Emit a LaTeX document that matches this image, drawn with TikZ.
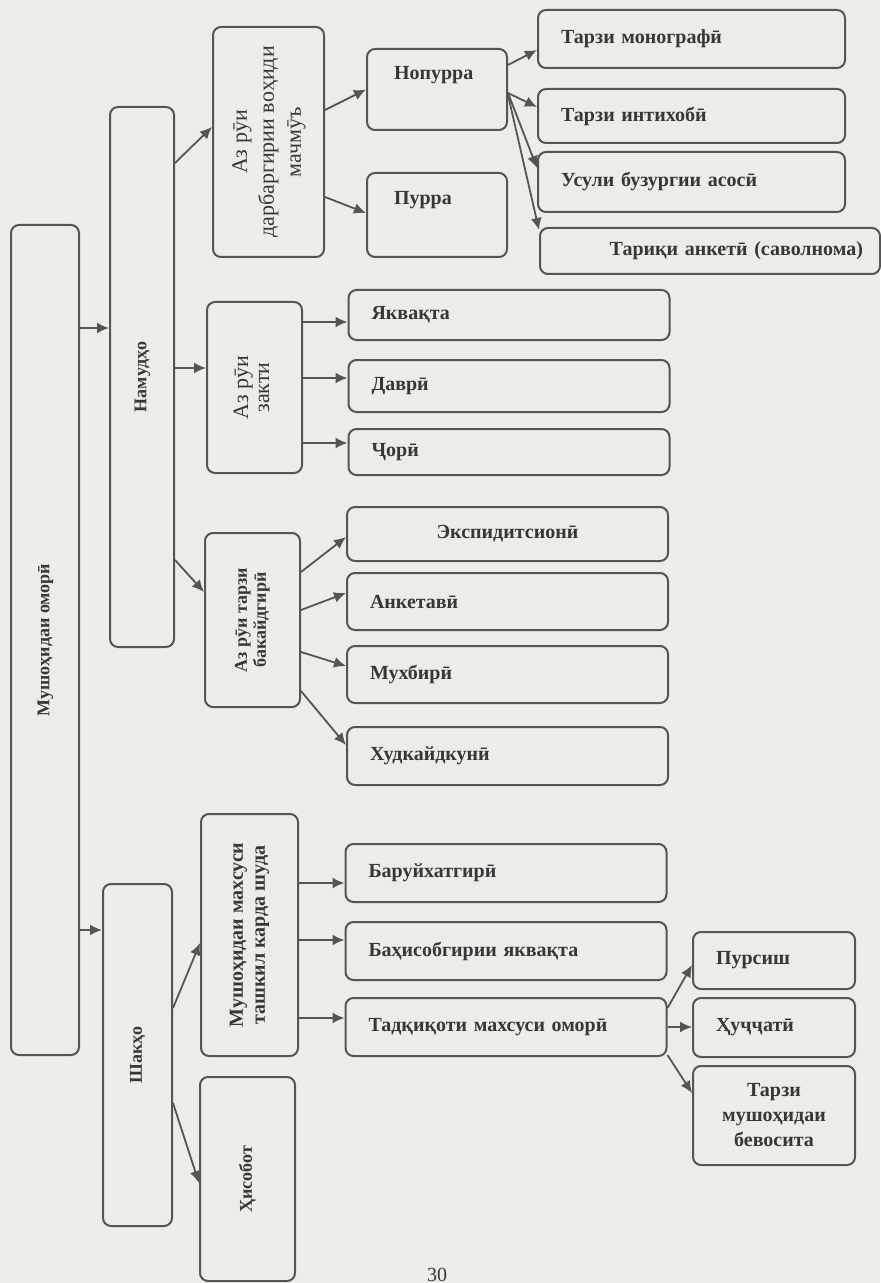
\documentclass[tikz,border=0pt]{standalone}
\usepackage{fontspec}
\setmainfont{Liberation Serif}
\usepackage{graphicx}
\usetikzlibrary{arrows.meta}

\definecolor{paper}{RGB}{236,236,233}
\definecolor{ink}{RGB}{55,55,55}
\definecolor{frame}{RGB}{85,85,85}

\newcommand{\vlabel}[1]{\rotatebox{90}{\begin{tabular}{@{}c@{}}#1\end{tabular}}}

\begin{document}
\begin{tikzpicture}[x=0.5pt,y=-0.5pt,
    box/.style={draw=frame,line width=1pt,rounded corners=4pt,inner sep=0pt,text=ink},
    vbox/.style={box,font=\bfseries\fontsize{9}{11}\selectfont},
    hbox/.style={box,font=\bfseries\fontsize{10}{12}\selectfont,align=left,inner xsep=11.5pt},
    lowbox/.style={hbox,text width=137.5pt},
    topbox/.style={hbox,text width=130.5pt},
    smallbox/.style={hbox,text width=58pt},
    arr/.style={draw=frame,line width=0.9pt,-{Latex[length=6pt,width=5.5pt]}}]
  \fill[paper] (0,0) rectangle (880,1283);
  \useasboundingbox (0,0) rectangle (880,1283);

  % left columns
  \node[vbox,minimum width=34pt,minimum height=415pt] (main) at (45,640) {\vlabel{Мушоҳидаи оморӣ}};
  \node[vbox,minimum width=32pt,minimum height=270pt] (nam) at (142,377) {\vlabel{Намудҳо}};
  \node[vbox,minimum width=34.5pt,minimum height=171pt] (shakl) at (137.5,1055) {\vlabel{Шакҳо}};

  \node[box,font=\fontsize{11}{13.5}\selectfont,minimum width=55.5pt,minimum height=115pt] (darb) at (268.5,142)
    {\vlabel{Аз рӯи\\дарбаргирии воҳиди\\мачмӯъ}};
  \node[box,font=\fontsize{11}{10.5}\selectfont,minimum width=47.5pt,minimum height=85.5pt] (zakt) at (254.5,387.5)
    {\vlabel{Аз рӯи\\закти}};
  \node[vbox,font=\bfseries\fontsize{9}{9.5}\selectfont,minimum width=47.5pt,minimum height=87pt] (tarz) at (252.5,620)
    {\vlabel{Аз рӯи тарзи\\бакайдгирӣ}};
  \node[vbox,font=\bfseries\fontsize{10}{11}\selectfont,minimum width=48.5pt,minimum height=121pt] (makh) at (249.5,935)
    {\vlabel{Мушоҳидаи махсуси\\ташкил карда шуда}};
  \node[vbox,minimum width=47.5pt,minimum height=102pt] (hisob) at (247.5,1179) {\vlabel{Ҳисобот}};

  % pure / not pure
  \node[hbox,text width=43pt,inner xsep=13.5pt,inner ysep=0pt,text height=15.5pt,text depth=25pt] (nopur) at (437,89.5) {Нопурра};
  \node[hbox,text width=43pt,inner xsep=13.5pt,inner ysep=0pt,text height=16pt,text depth=26pt] (purra) at (437,215) {Пурра};

  % right column, top
  \node[topbox,minimum height=29pt] (mono) at (691.5,39) {Тарзи монографӣ};
  \node[topbox,minimum height=27pt] (intix) at (691.5,116) {Тарзи интихобӣ};
  \node[topbox,minimum height=30pt] (usul) at (691.5,182) {Усули бузургии асосӣ};
  \node[hbox,text width=153pt,inner xsep=8.5pt,align=right,minimum height=23pt] (anket) at (710,251) {Тариқи анкетӣ (саволнома)};

  \node[lowbox,minimum height=25pt] (yak) at (509,315) {Яквақта};
  \node[lowbox,minimum height=26pt] (davr) at (509,386) {Даврӣ};
  \node[lowbox,minimum height=23pt] (jori) at (509,452) {Ҷорӣ};

  \node[lowbox,align=center,minimum height=27pt] (eksp) at (507.5,534) {Экспидитсионӣ};
  \node[lowbox,minimum height=28.5pt] (anketavi) at (507.5,601.5) {Анкетавӣ};
  \node[lowbox,minimum height=28.5pt] (mukh) at (507.5,674.5) {Мухбирӣ};
  \node[lowbox,minimum height=29pt] (khud) at (507.5,756) {Худкайдкунӣ};

  \node[lowbox,minimum height=29pt] (baru) at (506,873) {Баруйхатгирӣ};
  \node[lowbox,minimum height=29pt] (bahis) at (506,951) {Баҳисобгирии яквақта};
  \node[lowbox,minimum height=29pt] (tadq) at (506,1027) {Тадқиқоти махсуси оморӣ};

  \node[smallbox,minimum height=28.5pt] (pursish) at (774,960.5) {Пурсиш};
  \node[smallbox,minimum height=29.5pt] (hujj) at (774,1027.5) {Ҳуҷҷатӣ};
  \node[smallbox,align=center,minimum height=49.5pt,font=\bfseries\fontsize{10}{12.5}\selectfont] (bevos) at (774,1115.5)
    {Тарзи\\мушоҳидаи\\бевосита};

  \node[anchor=south,inner sep=0pt,text=ink,font=\fontsize{10}{12}\selectfont] (pnum) at (437,1282) {30};

  % arrows
  \draw[arr] ([yshift=156pt]main.east) -- ([yshift=24.5pt]nam.west);
  \draw[arr] ([yshift=-145pt]main.east) -- ([yshift=62.5pt]shakl.west);

  \draw[arr] ([yshift=107pt]nam.east) -- ([yshift=7.5pt]darb.west);
  \draw[arr] ([yshift=4.5pt]nam.east) -- ([yshift=9.75pt]zakt.west);
  \draw[arr] ([yshift=-91.5pt]nam.east) -- ([yshift=14pt]tarz.west);

  \draw[arr] ([yshift=16pt]darb.east) -- (nopur.west);
  \draw[arr] ([yshift=-27.5pt]darb.east) -- ([yshift=1pt]purra.west);

  \draw[arr] ([yshift=12.25pt]nopur.east) -- ([yshift=-5.5pt]mono.west);
  \draw[arr] ([yshift=-1.75pt]nopur.east) -- ([yshift=4.5pt]intix.west);
  \draw[arr] ([yshift=-1.75pt]nopur.east) -- ([yshift=7pt]usul.west);
  \draw[arr] ([yshift=-2.75pt]nopur.east) -- ([yshift=10.5pt]anket.west);

  \draw[arr] ([yshift=32.75pt]zakt.east) -- ([yshift=-3.5pt]yak.west);
  \draw[arr] ([yshift=4.75pt]zakt.east) -- ([yshift=4pt]davr.west);
  \draw[arr] ([yshift=-27.75pt]zakt.east) -- ([yshift=4.5pt]jori.west);

  \draw[arr] ([yshift=24pt]tarz.east) -- ([yshift=-1.5pt]eksp.west);
  \draw[arr] ([yshift=5pt]tarz.east) -- ([yshift=4.25pt]anketavi.west);
  \draw[arr] ([yshift=-16pt]tarz.east) -- ([yshift=4.25pt]mukh.west);
  \draw[arr] ([yshift=-35.5pt]tarz.east) -- ([yshift=5.5pt]khud.west);

  \draw[arr] ([yshift=23.5pt]shakl.east) -- ([yshift=-4pt]makh.west);
  \draw[arr] ([yshift=-24pt]shakl.east) -- ([yshift=-2pt]hisob.west);

  \draw[arr] ([yshift=26pt]makh.east) -- ([yshift=-5pt]baru.west);
  \draw[arr] ([yshift=-2.5pt]makh.east) -- ([yshift=5.5pt]bahis.west);
  \draw[arr] ([yshift=-41.5pt]makh.east) -- ([yshift=4.5pt]tadq.west);

  \draw[arr] ([yshift=9.5pt]tadq.east) -- ([yshift=-2.25pt]pursish.west);
  \draw[arr] (tadq.east) -- (tadq.east -| hujj.west);
  \draw[arr] ([yshift=-14pt]tadq.east) -- ([yshift=11.25pt]bevos.west);
\end{tikzpicture}
\end{document}
